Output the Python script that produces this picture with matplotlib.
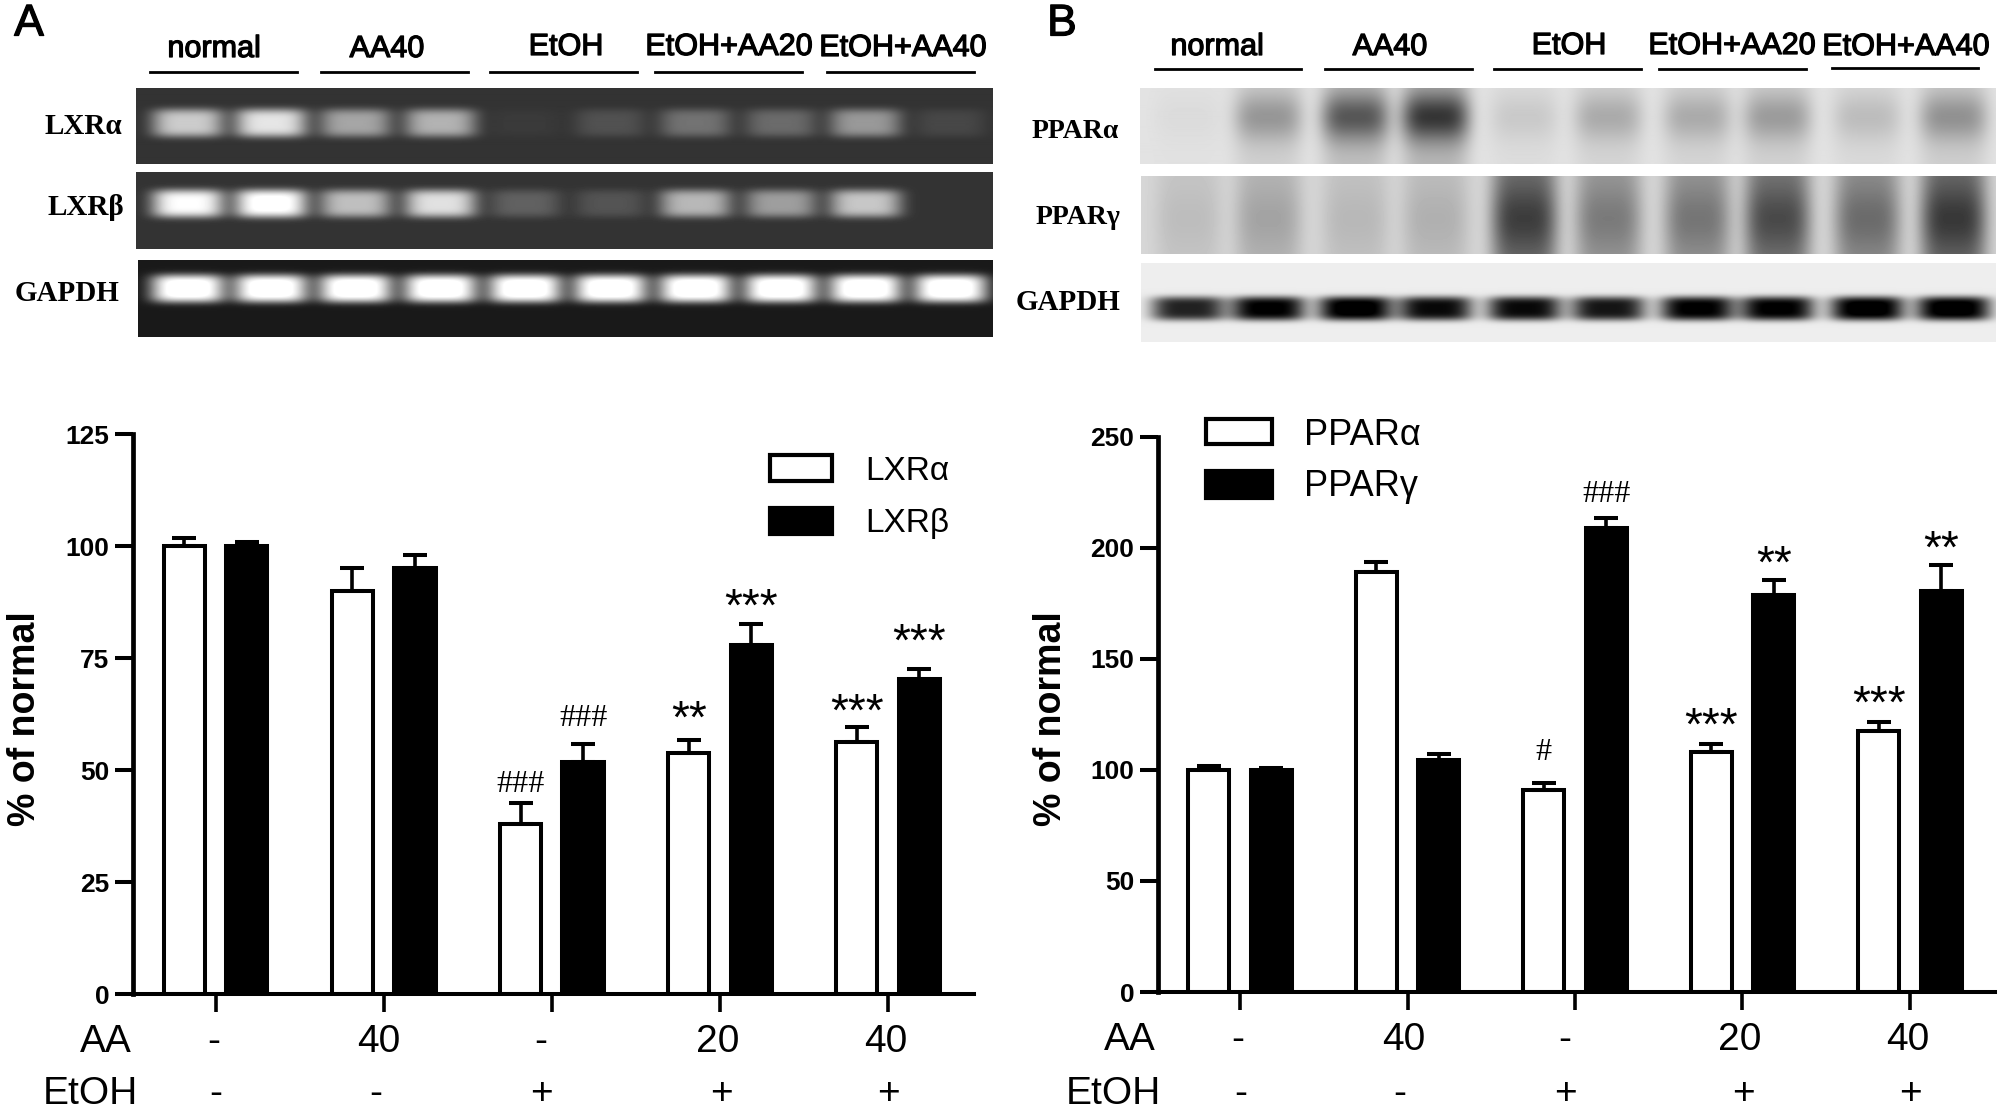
import numpy as np
import matplotlib
matplotlib.use("Agg")
import matplotlib.pyplot as plt
from matplotlib.patches import Rectangle
from matplotlib.lines import Line2D
import matplotlib.patheffects as pe

W, H = 2006, 1114
SANS = "Liberation Sans"
SERIF = "Liberation Serif"

# bar values
groups = [0, 1, 2, 3, 4]
lxra = [100, 90, 38, 53.7, 56.2]
lxra_err = [1.8, 5, 4.6, 2.9, 3.5]
lxrb = [100, 95, 51.8, 78, 70.3]
lxrb_err = [1, 2.9, 3.9, 4.6, 2.3]
ppara = [100, 189, 91, 108, 117.5]
ppara_err = [2, 4.6, 3, 3.8, 4.3]
pparg = [100, 104.5, 209, 179, 180.5]
pparg_err = [0.8, 2.8, 4.6, 6.5, 12]

# significance marks and the height they sit at
sig_lxra = ["", "", "###", "**", "***"]
sig_lxra_y = [0, 0, 46.8, 61, 62.5]
sig_lxrb = ["", "", "###", "***", "***"]
sig_lxrb_y = [0, 0, 61.5, 86, 78.3]
sig_ppara = ["", "", "#", "***", "***"]
sig_ppara_y = [0, 0, 107.8, 119, 129]
sig_pparg = ["", "", "###", "**", "**"]
sig_pparg_y = [0, 0, 224, 192, 199]

# treatment rows
aa_row = ["-", "40", "-", "20", "40"]
etoh_row = ["-", "-", "+", "+", "+"]
headers = ["normal", "AA40", "EtOH", "EtOH+AA20", "EtOH+AA40"]

# band strength per lane, read by eye from the gels
gel_lxra = [0.6, 0.7, 0.45, 0.5, 0.03, 0.12, 0.25, 0.22, 0.4, 0.08]
gel_lxrb = [0.8, 0.85, 0.55, 0.68, 0.18, 0.13, 0.52, 0.42, 0.58, 0.0]
gel_gapdh_a = [1, 1, 1, 1, 1, 1, 1, 1, 1, 1]
blot_ppara = [0.03, 0.3, 0.55, 0.68, 0.1, 0.22, 0.22, 0.28, 0.15, 0.32]
blot_pparg = [0.1, 0.2, 0.12, 0.15, 0.6, 0.36, 0.38, 0.55, 0.42, 0.62]
blot_gapdh = [0.8, 0.95, 1, 0.9, 0.9, 0.85, 0.95, 0.95, 1, 1]


def fx(x):
    return x / W


def fy(y):
    return 1 - y / H


def put(fig, x, y, s, size, family=SANS, weight="normal", ha="center", rot=0, thick=0):
    t = fig.text(fx(x), fy(y), s, fontsize=size, family=family, fontweight=weight,
                 ha=ha, va="center", rotation=rot, color="k")
    if thick:
        t.set_path_effects([pe.withStroke(linewidth=thick, foreground="k")])
    return t


def gel(fig, box, levels, lanes, band_y, hw, hh, bg, sign, smear=0.0, power=2):
    """One gel/blot strip, box is (left, top, right, bottom) in pixels."""
    l, t, r, b = box
    xx, yy = np.meshgrid(np.arange(l, r), np.arange(t, b))
    img = np.full(xx.shape, float(bg))
    for cx, lev in zip(lanes, levels):
        across = np.exp(-((xx - cx) / hw) ** 4)
        band = np.exp(-((yy - band_y) / hh) ** power)
        img += sign * lev * across * (band * (1 - smear) + smear)
    ax = fig.add_axes([fx(l), fy(b), (r - l) / W, (b - t) / H])
    ax.imshow(img, cmap="gray", vmin=0, vmax=1, aspect="auto", interpolation="bilinear")
    ax.axis("off")


def bars(fig, box, x0, step, ymax, ticks, white, white_err, black, black_err):
    l, t, r, b = box
    ax = fig.add_axes([fx(l), fy(b), (r - l) / W, (b - t) / H])
    off, w = 0.186, 0.245
    x = np.array(groups)
    ax.bar(x - off, white, w, color="w", edgecolor="k", linewidth=2.9)
    ax.bar(x + off, black, w, color="k", edgecolor="k", linewidth=2.9)
    for xs, v, e in [(x - off, white, white_err), (x + off, black, black_err)]:
        ax.errorbar(xs, v, yerr=[np.zeros(5), e], fmt="none", ecolor="k", elinewidth=2.6,
                    capsize=8.5, capthick=2.9)
    ax.set_xlim((l - x0) / step, (r - x0) / step)
    ax.set_ylim(0, ymax)
    ax.set_xticks(groups)
    ax.set_xticklabels([])
    ax.set_yticks(ticks)
    ax.tick_params(axis="x", length=13, width=2.6)
    ax.tick_params(axis="y", length=13, width=2.9, pad=4, labelsize=19)
    for lab in ax.get_yticklabels():
        lab.set_family(SANS)
        lab.set_fontweight("bold")
    ax.spines[["top", "right"]].set_visible(False)
    ax.spines["left"].set_linewidth(3.4)
    ax.spines["bottom"].set_linewidth(2.9)
    return ax, x - off, x + off


def marks(ax, xs, labels, ys):
    for x, s, y in zip(xs, labels, ys):
        if s.startswith("#"):
            ax.text(x, y, s, fontsize=23, family=SERIF, ha="center", va="center")
        elif s:
            ax.text(x, y, s, fontsize=33, family=SANS, ha="center", va="center")


def legend_box(fig, box, color):
    l, t, r, b = box
    fig.add_artist(Rectangle((fx(l), fy(b)), (r - l) / W, (b - t) / H, transform=fig.transFigure,
                             facecolor=color, edgecolor="k", linewidth=3))


fig = plt.figure(figsize=(W / 100, H / 100), dpi=100, facecolor="w")

# --- panel A gels ---
lanes_a = [187.5, 270.6, 355, 440, 524.6, 610, 695, 780.5, 865, 950]
gel(fig, (136, 88, 993, 164), gel_lxra, lanes_a, 123, 36, 14, 0.2, 1, power=4)
gel(fig, (136, 172, 993, 249), gel_lxrb, lanes_a, 203, 36, 14, 0.2, 1, power=4)
gel(fig, (138, 260, 993, 337), gel_gapdh_a, lanes_a, 288, 37, 14, 0.1, 1, power=4)

# --- panel B blots ---
lanes_b = [1188, 1268, 1355, 1435, 1524, 1608, 1697, 1777, 1867, 1953]
gel(fig, (1140, 88, 1996, 164), blot_ppara, lanes_b, 117, 34, 24, 0.89, -1, smear=0.25)
gel(fig, (1141, 176, 1996, 254), blot_pparg, lanes_b, 218, 33, 34, 0.84, -1, smear=0.65)
gel(fig, (1141, 263, 1996, 342), blot_gapdh, lanes_b, 308, 37, 12, 0.93, -1, power=4)

# header text and lines over the gels
head_a = [(214, 49), (387, 49), (566, 47), (729, 47), (903, 48)]
line_a = [(150, 297, 72), (321, 468, 72), (490, 637, 72), (655, 802, 72), (827, 974, 72)]
head_b = [(1217, 47), (1390, 47), (1569, 46), (1732, 46), (1906, 47)]
line_b = [(1155, 1301, 69), (1325, 1472, 69), (1494, 1641, 69), (1659, 1806, 69), (1832, 1978, 68)]
for heads, lines in [(head_a, line_a), (head_b, line_b)]:
    for name, (x, y), (x1, x2, ly) in zip(headers, heads, lines):
        put(fig, x, y, name, 22, thick=0.9)
        fig.add_artist(Line2D([fx(x1), fx(x2)], [fy(ly), fy(ly)], color="k", lw=2,
                              transform=fig.transFigure))

put(fig, 83, 127, "LXRα", 21, SERIF, "bold")
put(fig, 86, 207, "LXRβ", 21, SERIF, "bold")
put(fig, 67, 293, "GAPDH", 21, SERIF, "bold")
put(fig, 1075, 132, "PPARα", 20, SERIF, "bold")
put(fig, 1078, 218, "PPARγ", 20, SERIF, "bold")
put(fig, 1068, 303, "GAPDH", 21, SERIF, "bold")
put(fig, 29, 24, "A", 32, thick=0.9)
put(fig, 1062, 24, "B", 32, thick=0.9)

# --- bar charts ---
ax_a, xa_w, xa_b = bars(fig, (133, 434, 974, 994), 215.6, 168.1, 125, [0, 25, 50, 75, 100, 125],
                        lxra, lxra_err, lxrb, lxrb_err)
marks(ax_a, xa_w, sig_lxra, sig_lxra_y)
marks(ax_a, xa_b, sig_lxrb, sig_lxrb_y)

ax_b, xb_w, xb_b = bars(fig, (1158, 437, 1995, 992), 1240, 167.5, 250, [0, 50, 100, 150, 200, 250],
                        ppara, ppara_err, pparg, pparg_err)
marks(ax_b, xb_w, sig_ppara, sig_ppara_y)
marks(ax_b, xb_b, sig_pparg, sig_pparg_y)

put(fig, 25, 719, "% of normal", 27, weight="bold", rot=90)
put(fig, 1051, 719, "% of normal", 27, weight="bold", rot=90)

# treatment rows under the axes
put(fig, 106, 1042, "AA", 28)
put(fig, 90, 1094, "EtOH", 28)
put(fig, 1130, 1040, "AA", 28)
put(fig, 1113, 1094, "EtOH", 28)
aa_x_a = [214, 379, 541, 718, 886]
et_x_a = [216, 376, 541, 721, 888]
aa_x_b = [1238, 1404, 1565, 1740, 1908]
et_x_b = [1241, 1400, 1565, 1743, 1910]
for xs, row, y in [(aa_x_a, aa_row, 1042), (et_x_a, etoh_row, 1094),
                   (aa_x_b, aa_row, 1040), (et_x_b, etoh_row, 1094)]:
    for x, s in zip(xs, row):
        put(fig, x, y, s, 28)

# legends
legend_box(fig, (770, 455, 832, 481), "w")
legend_box(fig, (770, 508, 832, 534), "k")
put(fig, 865, 471, "LXRα", 24, ha="left")
put(fig, 865, 524, "LXRβ", 24, ha="left")
legend_box(fig, (1206, 419, 1272, 444), "w")
legend_box(fig, (1206, 471, 1272, 498), "k")
put(fig, 1304, 436, "PPARα", 26, ha="left")
put(fig, 1304, 487, "PPARγ", 26, ha="left")

fig.savefig("out.png", dpi=100, facecolor="w")
